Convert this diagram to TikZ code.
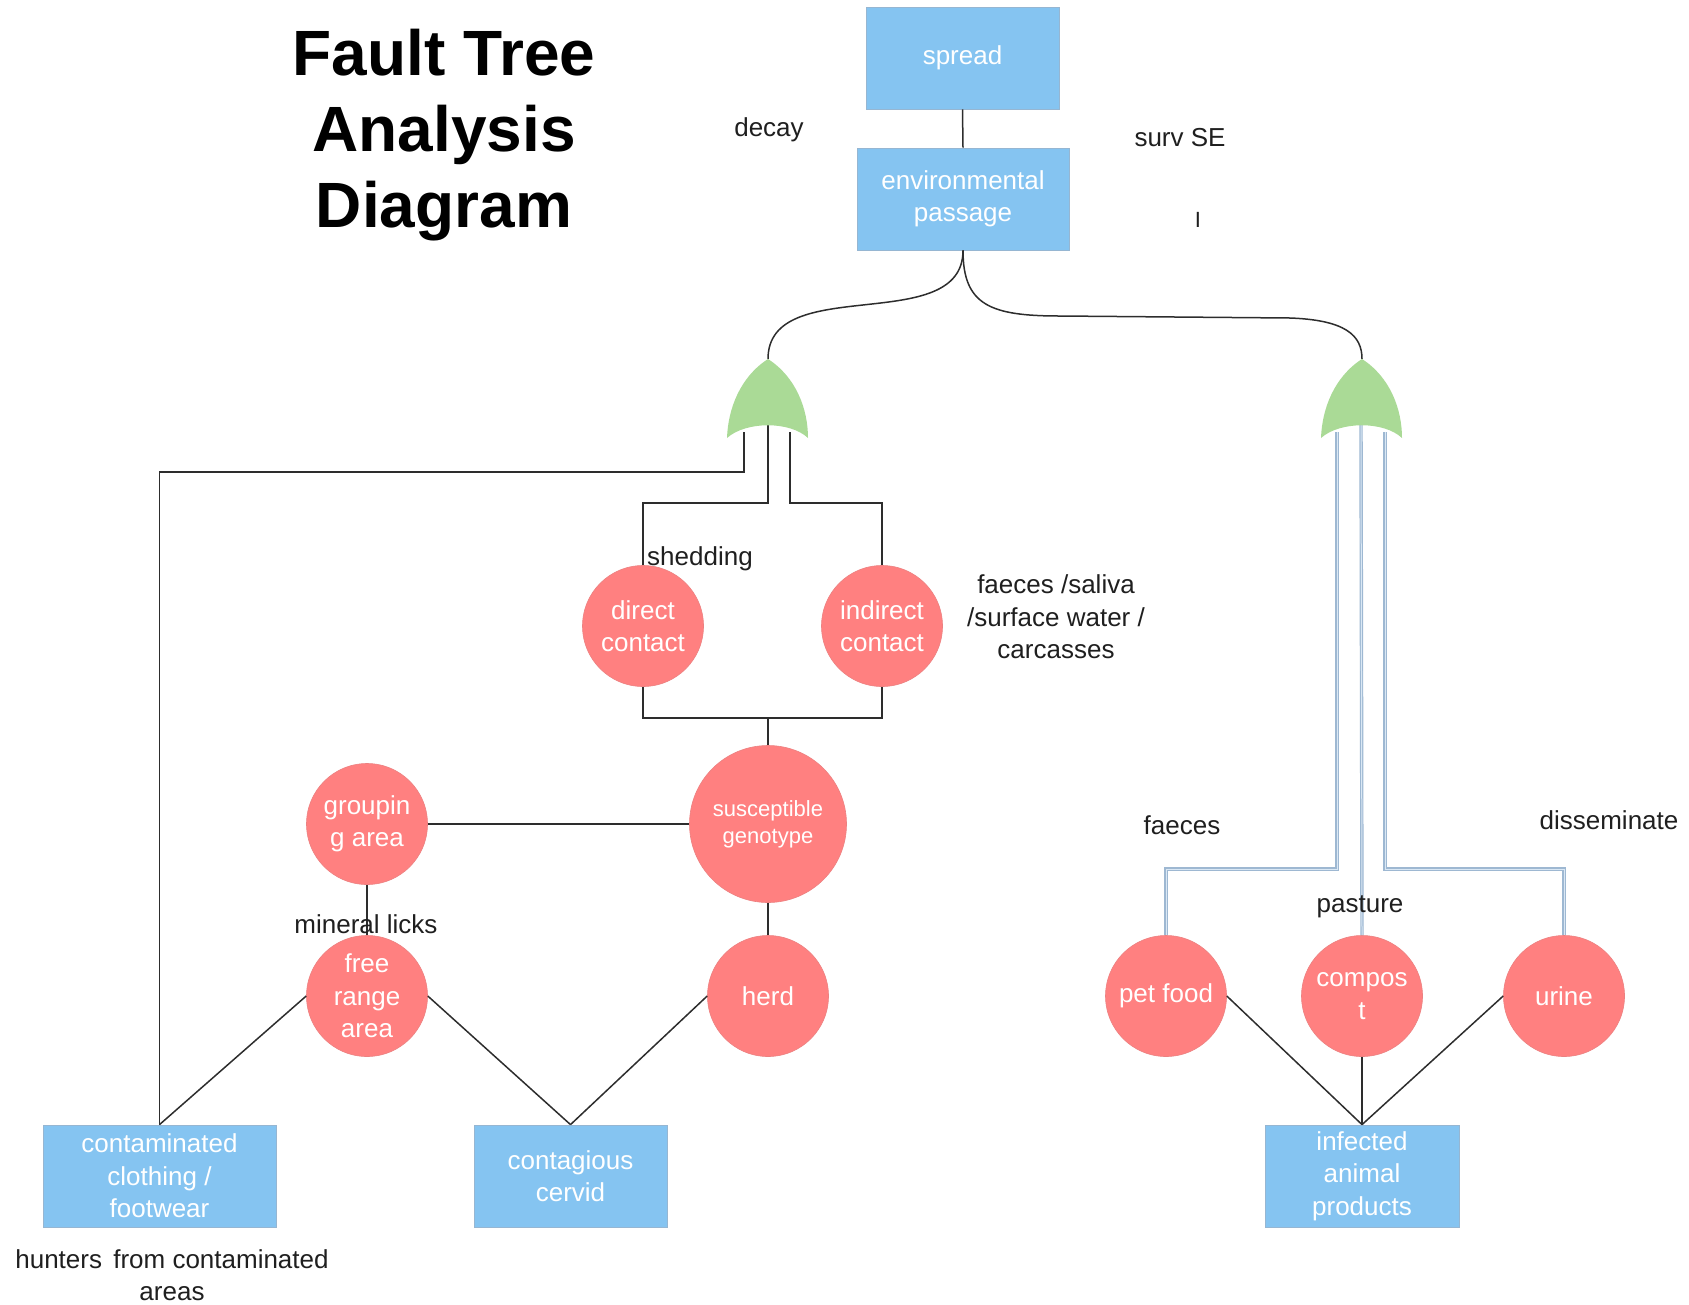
\documentclass[tikz,border=0pt]{standalone}
\usepackage{fontspec}
\setmainfont{Liberation Sans}
\usepackage{xcolor}
\definecolor{boxblue}{RGB}{133,196,241}
\definecolor{boxedge}{RGB}{150,182,210}
\definecolor{circred}{RGB}{255,128,128}
\definecolor{gategreen}{RGB}{170,218,150}
\definecolor{wireblue}{RGB}{158,184,210}
\definecolor{wirelight}{RGB}{218,232,245}
\definecolor{linegray}{RGB}{45,45,45}

\tikzset{
  event/.style={rectangle, fill=boxblue, draw=boxedge, line width=0.8pt, text=white,
    align=center, inner sep=0pt, minimum height=102pt, font=\fontsize{26}{32.5}\selectfont},
  cause/.style={circle, fill=circred, draw=circred!85!gray, line width=0.6pt, text=white,
    align=center, inner sep=0pt, minimum size=121pt, font=\fontsize{26}{32.5}\selectfont},
  lbl/.style={align=center, inner sep=0pt, text=black!88, font=\fontsize{26}{32.5}\selectfont},
  wire/.style={draw=linegray, line width=1.5pt},
  bluewire/.style={draw=wireblue, line width=1.2pt, double=wirelight, double distance=1pt},
  orgate/.pic={
    \fill[gategreen] (-41,79) .. controls (-40,50) and (-28,18) .. (0,0)
      .. controls (28,18) and (40,50) .. (40,79)
      .. controls (22,62) and (-22,62) .. (-41,79);
  }
}

\begin{document}
\begin{tikzpicture}[x=1pt,y=-1pt]
\useasboundingbox (0,0) rectangle (1689,1304);

%title
\node[align=center, inner sep=0pt, font=\fontsize{64}{76}\selectfont\bfseries] (ttl) at (444,135)
  {Fault Tree\\Analysis\\Diagram};

%top events
\node[event, minimum width=193pt] (sp) at (962.5,58) {spread};
\node[event, minimum width=212pt] (ep) at (963,199) {environmental\\passage};

%gate anchors
\coordinate (lgT) at (768,359);
\coordinate (lgL) at (744,432);
\coordinate (lgM) at (768,425);
\coordinate (lgR) at (790,432);
\coordinate (rgT) at (1362,359);
\coordinate (rgL) at (1337,432);
\coordinate (rgM) at (1361,425);
\coordinate (rgR) at (1385,432);

%left branch
\node[cause] (dc) at (643,626) {direct\\contact};
\node[cause] (ic) at (882,626) {indirect\\contact};
\node[cause, minimum size=157pt, font=\fontsize{22}{27}\selectfont] (sg) at (768,824) {susceptible\\genotype};
\node[cause] (ga) at (367,824) {\raisebox{-3pt}{groupin}\\\raisebox{-3pt}{g area}};
\node[cause] (fr) at (367,996) {free\\range\\area};
\node[cause] (hd) at (768,996) {herd};
\node[event, minimum width=233pt] (cc) at (159.5,1176) {contaminated\\clothing /\\footwear};
\node[event, minimum width=193pt] (cv) at (570.5,1176) {contagious\\cervid};

%right branch
\node[cause] (pf) at (1166,996) {pet food};
\node[cause] (cp) at (1362,996) {compos\\t};
\node[cause] (ur) at (1564,996) {urine};
\node[event, minimum width=194pt] (ia) at (1362,1176) {infected\\animal\\products};

%connectors
\draw[wire] (sp.south) -- (ep.north);
\draw[wire] (ep.south) to[out=-90,in=90] (lgT);
\draw[wire] (ep.south) .. controls (963,305) and (990,316) .. (1060,316) -- (1290,318)
  .. controls (1345,320) and (1362,335) .. (rgT);
\draw[wire] (lgL) -- ++(0,40) -| (cc.north);
\draw[wire] (lgM) -- ++(0,78) -| (dc.north);
\draw[wire] (lgR) -- ++(0,71) -| (ic.north);
\coordinate (jn) at (768,718);
\draw[wire] (dc.south) |- (jn) -| (ic.south);
\draw[wire] (jn) -- (sg.north);
\draw[wire] (ga.east) -- (sg.west);
\draw[wire] (ga.south) -- (fr.north);
\draw[wire] (sg.south) -- (hd.north);
\draw[wire] (fr.west) -- (cc.north);
\draw[wire] (fr.east) -- (cv.north);
\draw[wire] (hd.west) -- (cv.north);
\draw[wire] (pf.east) -- (ia.north);
\draw[wire] (cp.south) -- (ia.north);
\draw[wire] (ur.west) -- (ia.north);
\draw[bluewire] (rgL) -- (1337,869) -| (pf.north);
\draw[bluewire] (rgM) -- (cp.north);
\draw[bluewire] (rgR) -- (1385,869) -| (ur.north);

%or gates
\pic at (lgT) {orgate};
\pic at (rgT) {orgate};

%labels
\node[lbl, anchor=base] (decay) at (769,136) {decay};
\node[lbl, anchor=base] (surv) at (1180,146) {surv SE};
\node[lbl, font=\fontsize{22}{27}\selectfont] (bar) at (1198,220) {I};
\node[lbl, anchor=base west] (shed) at (647,565) {shedding};
\node[lbl] (faec) at (1056,617) {faeces /saliva\\/surface water /\\carcasses};
\node[lbl, anchor=base] (mine) at (366,933) {mineral licks};
\node[lbl, anchor=base] (faec2) at (1182,834) {faeces};
\node[lbl, anchor=base] (past) at (1360,912) {pasture};
\node[lbl, anchor=base] (diss) at (1609,829) {disseminate};
\node[lbl] (hunt) at (172,1275) {hunters\kern4pt\ from contaminated\\areas};
\end{tikzpicture}
\end{document}
